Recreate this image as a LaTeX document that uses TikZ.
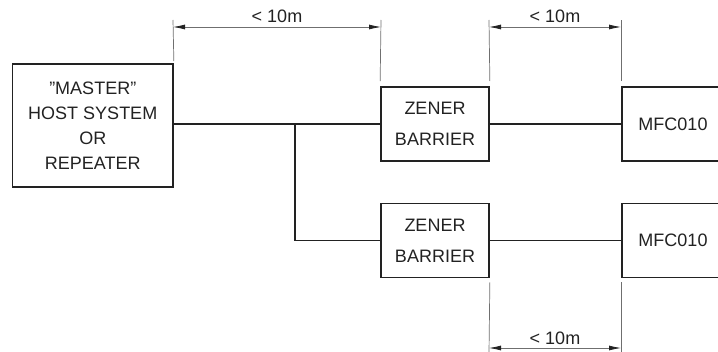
\documentclass[tikz,border=0pt]{standalone}
\usepackage{fontspec}
\setmainfont{Liberation Sans}
\usetikzlibrary{arrows.meta}
\definecolor{ink}{HTML}{222222}
\definecolor{dimc}{HTML}{6f6f6f}
\tikzset{
  box/.style={draw=ink, line width=1.7pt, text=ink, align=center, inner sep=0pt, font=\fontsize{18}{25}\selectfont},
  zenbox/.style={box, minimum width=108pt, minimum height=74pt, font=\fontsize{18}{31}\selectfont},
  wire/.style={draw=ink, line width=1.7pt},
  ext/.style={draw=dimc, line width=0.7pt},
  dimtip/.tip={Latex[length=12pt,width=5pt,color=ink]},
  dimline/.style={draw=dimc, line width=0.8pt, dimtip-dimtip},
  dimtext/.style={text=ink, font=\fontsize{18}{20}\selectfont, inner sep=0pt}
}
\begin{document}
\begin{tikzpicture}[x=1pt,y=1pt]
\useasboundingbox (0,0) rectangle (718,351);
\clip (0,0) rectangle (718,351);
% boxes
\node[box, minimum width=160.5pt, minimum height=123pt] (master) at (92.75,225.5)
  {\symbol{34}MASTER\symbol{34}\\HOST SYSTEM\\OR\\REPEATER};
\node[zenbox] (zen1) at (435,227) {ZENER\\BARRIER};
\node[zenbox] (zen2) at (435,110.5) {ZENER\\BARRIER};
\node[box, minimum width=120pt, minimum height=74pt, anchor=west] (mfc1) at (621,227) {};
\node[box, minimum width=120pt, minimum height=74pt, anchor=west] (mfc2) at (621,110.5) {};
\node[text=ink, font=\fontsize{18}{20}\selectfont] (t1) at (673,227) {MFC010};
\node[text=ink, font=\fontsize{18}{20}\selectfont] (t2) at (673,110.5) {MFC010};
% wires
\coordinate (br) at (295,227);
\path[wire] (master.east |- zen1.west) -- (zen1.west);
\path[wire] (br) |- (zen2.west);
\path[wire] (zen1.east) -- (mfc1.west);
\path[wire] (zen2.east) -- (mfc2.west);
% dimension: master to zener (top)
\coordinate (e1b) at ([yshift=2pt]master.north east);
\coordinate (e1t) at (173,331);
\coordinate (e2b) at ([yshift=5pt]zen1.north west);
\coordinate (e2t) at (381,331);
\path[ext] (e1b) -- (e1t);
\path[ext] (e2b) -- (e2t);
\coordinate (d1a) at (173,324);
\coordinate (d1b) at (381,324);
\path[dimline] (d1a) -- (d1b);
\node[dimtext] (l1) at (277,335) {< 10m};
% dimension: zener to mfc (top)
\coordinate (e3b) at ([yshift=5pt]zen1.north east);
\coordinate (e3t) at (489,331);
\coordinate (e4b) at ([yshift=5pt]mfc1.north west);
\coordinate (e4t) at (621,331);
\path[ext] (e3b) -- (e3t);
\path[ext] (e4b) -- (e4t);
\coordinate (d2a) at (489,324);
\coordinate (d2b) at (621,324);
\path[dimline] (d2a) -- (d2b);
\node[dimtext] (l2) at (555,335) {< 10m};
% dimension: zener to mfc (bottom)
\coordinate (e5t) at ([yshift=-4pt]zen2.south east);
\coordinate (e5b) at (489,-2);
\coordinate (e6t) at ([yshift=-4pt]mfc2.south west);
\coordinate (e6b) at (621,-2);
\path[ext] (e5t) -- (e5b);
\path[ext] (e6t) -- (e6b);
\coordinate (d3a) at (489,3);
\coordinate (d3b) at (621,3);
\path[dimline] (d3a) -- (d3b);
\node[dimtext] (l3) at (555,12.5) {< 10m};
\end{tikzpicture}
\end{document}
